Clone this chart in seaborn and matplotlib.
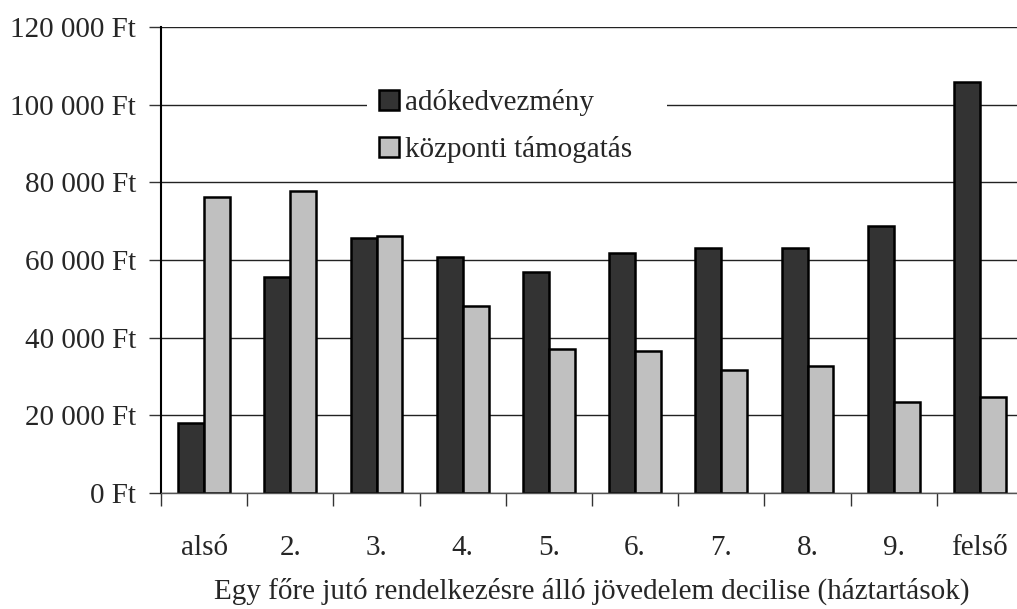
import numpy as np
import pandas as pd
import seaborn as sns
import matplotlib.pyplot as plt
from matplotlib.ticker import FuncFormatter, MultipleLocator, FixedLocator

decilisek = ['alsó', '2.', '3.', '4.', '5.', '6.', '7.', '8.', '9.', 'felső']
adokedvezmeny = [18000, 55600, 65700, 60800, 56900, 61800, 63100, 63100, 68800, 105800]
kozponti = [76200, 77800, 66200, 48200, 37100, 36600, 31700, 32700, 23400, 24700]
sorozatok = ['adókedvezmény', 'központi támogatás']

df = pd.DataFrame({
    'decilis': decilisek * 2,
    'ertek': adokedvezmeny + kozponti,
    'sorozat': [sorozatok[0]] * len(decilisek) + [sorozatok[1]] * len(decilisek),
})

sns.set_theme(style='white')
plt.rcParams['font.family'] = ['Liberation Serif', 'DejaVu Serif']
fs = 21

fig = plt.figure(figsize=(10.17, 6.09), dpi=100)
ax = fig.add_axes([161 / 1017, 1 - 493 / 609, 862 / 1017, 466 / 609])

sns.barplot(data=df, x='decilis', y='ertek', hue='sorozat', order=decilisek,
            palette=['#333333', '#c0c0c0'], edgecolor='black', linewidth=1.8,
            width=0.6, ax=ax)

ax.set_ylim(0, 120000)
ax.set_xlim(-0.5, len(decilisek) - 0.5)
ax.yaxis.set_major_locator(MultipleLocator(20000))
ax.yaxis.set_major_formatter(FuncFormatter(lambda v, p: f'{int(v):,} Ft'.replace(',', ' ')))
ax.yaxis.grid(True, color='#222222', lw=1)
ax.set_axisbelow(True)

# x ticks between categories, labels at centres
ax.xaxis.set_minor_locator(FixedLocator(np.arange(-0.5, len(decilisek), 1)))
ax.tick_params(axis='x', which='major', length=0, pad=30, labelsize=fs)
ax.tick_params(axis='x', which='minor', length=9, width=1, color='#333333', direction='out', bottom=True)
ax.tick_params(axis='y', which='major', length=9, width=1, color='#333333', direction='out', left=True, pad=9, labelsize=fs)

for s in ['top', 'right']:
    ax.spines[s].set_visible(False)
ax.spines['left'].set_color('black')
ax.spines['left'].set_linewidth(1.5)
ax.spines['bottom'].set_color('#555555')
ax.spines['bottom'].set_linewidth(1)

ax.set_ylabel('')
ax.set_xlabel('Egy főre jutó rendelkezésre álló jövedelem decilise (háztartások)',
              fontsize=fs, labelpad=12)

leg = ax.legend(loc='upper left',
                bbox_to_anchor=((367 - 161) / 862, (493 - 82) / 466, 300 / 862, 0.01),
                mode='expand', frameon=True, facecolor='white', edgecolor='none',
                framealpha=1, fontsize=fs, handlelength=0.7, handleheight=0.7,
                handletextpad=0.2, labelspacing=0.7, borderpad=0.4,
                borderaxespad=0, fancybox=False)

fig.savefig('out.png', dpi=100)
